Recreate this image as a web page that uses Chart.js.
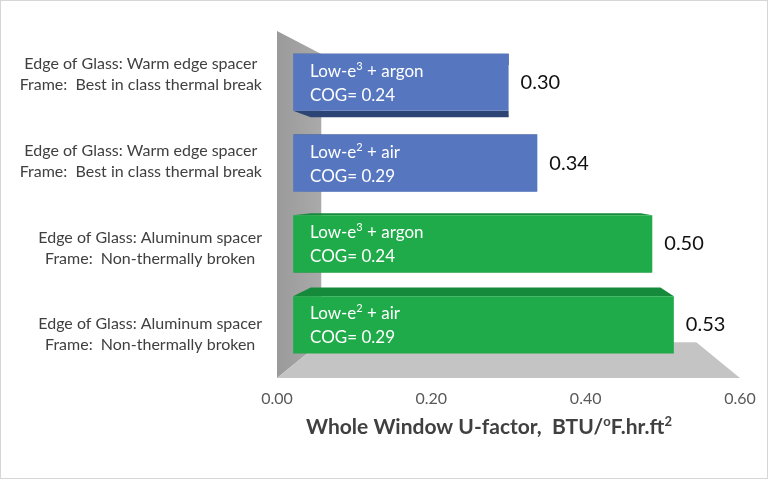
<!DOCTYPE html>
<html><head><meta charset="utf-8">
<script src="https://cdn.jsdelivr.net/npm/chart.js@4"></script>
<style>html,body{margin:0;padding:0;background:#fff;} canvas{display:block;}</style>
</head><body>
<canvas id="c" width="768" height="479"></canvas>
<script>
// ---- data ----
const categories = [
  ["Edge of Glass: Warm edge spacer", "Frame:  Best in class thermal break"],
  ["Edge of Glass: Warm edge spacer", "Frame:  Best in class thermal break"],
  ["Edge of Glass: Aluminum spacer", "Frame:  Non-thermally broken"],
  ["Edge of Glass: Aluminum spacer", "Frame:  Non-thermally broken"]
];
const uFactor = [0.30, 0.34, 0.50, 0.53];
const glazing = ["Low-e³ + argon", "Low-e² + air", "Low-e³ + argon", "Low-e² + air"];
const cogValues = [0.24, 0.29, 0.24, 0.29];
const xTicks = [0.00, 0.20, 0.40, 0.60];
const titleText = "Whole Window U-factor,  BTU/ºF.hr.ft²";

// ---- styles ----
const frontTop = ["#6a8fd6", "#6a8fd6", "#25b552", "#25b552"];
const frontBot = ["#5677c0", "#5677c0", "#1fab49", "#1fab49"];
const depthColors = ["#2d4574", "#2d4574", "#168a3b", "#168a3b"];
const VX = 510, VY = 190, K_FRONT = 0.931, K_BACK = 0.855, K_WALL = 0.81, K_WALL_TOP = 0.855;
const SUP = { '³': '3', '²': '2', 'º': 'o' };
const Y_FONT = '16px Lato', Y_LINE = 21, Y_PAD = 15;
function proj(x, y, k) { return [VX + (x - VX) * k, VY + (y - VY) * k]; }
function poly(ctx, pts, fill) {
  ctx.beginPath(); ctx.moveTo(pts[0][0], pts[0][1]);
  for (let i = 1; i < pts.length; i++) ctx.lineTo(pts[i][0], pts[i][1]);
  ctx.closePath(); ctx.fillStyle = fill; ctx.fill();
}
function runs(text) {
  const out = []; let cur = '';
  for (const ch of text) {
    if (SUP[ch]) { if (cur) out.push([cur, false]); out.push([SUP[ch], true]); cur = ''; }
    else cur += ch;
  }
  if (cur) out.push([cur, false]);
  return out;
}
function drawRich(ctx, text, x, y, big, small, rise, align) {
  const parts = runs(text);
  let total = 0;
  parts.forEach(([t, s]) => { ctx.font = s ? small : big; total += ctx.measureText(t).width; });
  if (align === 'center') x -= total / 2;
  ctx.textAlign = 'left';
  parts.forEach(([t, s]) => {
    ctx.font = s ? small : big;
    ctx.fillText(t, x, s ? y - rise : y);
    x += ctx.measureText(t).width;
  });
}

const threeD = {
  id: 'threeD',
  beforeDatasetsDraw(chart) {
    const ctx = chart.ctx, a = chart.chartArea;
    const wTopF = [a.left, a.top], wBotF = [a.left, a.bottom];
    const wTopB = [proj(a.left, a.top, K_WALL)[0], proj(a.left, a.top, K_WALL_TOP)[1]];
    const wBotB = proj(a.left, a.bottom, K_WALL);
    const g = ctx.createLinearGradient(a.left, 0, wTopB[0], 0);
    g.addColorStop(0, '#9a9a9a'); g.addColorStop(1, '#aaaaaa');
    poly(ctx, [wTopF, wTopB, wBotB, wBotF], g);
    const fRF = [a.right, a.bottom], fRB = proj(a.right, a.bottom, K_WALL);
    poly(ctx, [wBotF, fRF, fRB, wBotB], '#c4c4c4');
    const meta = chart.getDatasetMeta(0);
    meta.data.forEach((el, i) => {
      const p = el.getProps(['x', 'y', 'base', 'height'], true);
      const y0 = p.y - p.height / 2, y1 = p.y + p.height / 2;
      const x0 = p.base, x1 = p.x;
      const c = depthColors[i];
      poly(ctx, [proj(x0, y0, K_FRONT), proj(x1, y0, K_FRONT), proj(x1, y0, K_BACK), proj(x0, y0, K_BACK)], c);
      poly(ctx, [proj(x0, y1, K_FRONT), proj(x1, y1, K_FRONT), proj(x1, y1, K_BACK), proj(x0, y1, K_BACK)], c);
    });
    ctx.save();
    ctx.translate(VX, VY); ctx.scale(K_FRONT, K_FRONT); ctx.translate(-VX, -VY);
  },
  afterDatasetsDraw(chart) {
    const ctx = chart.ctx;
    ctx.restore();
    const meta = chart.getDatasetMeta(0);
    meta.data.forEach((el, i) => {
      const p = el.getProps(['x', 'y', 'base', 'height'], true);
      const [bx, cy] = proj(p.base, p.y, K_FRONT);
      const [ex] = proj(p.x, p.y, K_FRONT);
      ctx.save();
      ctx.textBaseline = 'middle';
      ctx.fillStyle = '#ffffff';
      drawRich(ctx, glazing[i], bx + 17, cy - 11, '17px Lato', '11px Lato', 5, 'left');
      ctx.font = '17px Lato'; ctx.textAlign = 'left';
      ctx.fillText('COG= ' + cogValues[i].toFixed(2), bx + 17, cy + 13);
      ctx.fillStyle = '#111111';
      ctx.font = '20px Lato';
      ctx.fillText(uFactor[i].toFixed(2), ex + 12, cy);
      ctx.restore();
    });
  },
  afterDraw(chart) {
    const ctx = chart.ctx;
    ctx.save();
    // category labels: each two-line block centred on itself, block right-aligned to the axis
    const ys = chart.scales.y;
    ctx.fillStyle = '#404040';
    ctx.textBaseline = 'middle';
    ctx.textAlign = 'center';
    ctx.font = Y_FONT;
    chart.data.labels.forEach((lines, i) => {
      const cy = ys.getPixelForTick(i);
      const w = Math.max(...lines.map(l => ctx.measureText(l).width));
      const cx = ys.right - Y_PAD - w / 2;
      lines.forEach((l, j) => ctx.fillText(l, cx, cy + (j - (lines.length - 1) / 2) * Y_LINE));
    });
    // axis title
    ctx.textBaseline = 'alphabetic';
    drawRich(ctx, titleText, 489, 434, 'bold 21px Lato', 'bold 13px Lato', 8, 'center');
    ctx.strokeStyle = '#d6d6d6'; ctx.lineWidth = 1;
    ctx.strokeRect(0.5, 0.5, chart.width - 1, chart.height - 1);
    ctx.restore();
  }
};

new Chart(document.getElementById('c'), {
  type: 'bar',
  data: {
    labels: categories,
    datasets: [{
      data: uFactor,
      backgroundColor: (c) => {
        const i = c.dataIndex, el = c.element;
        if (!el || el.height == null) return frontBot[i];
        const p = el.getProps(['y', 'height'], true);
        const g = c.chart.ctx.createLinearGradient(0, p.y - p.height / 2, 0, p.y + p.height / 2);
        g.addColorStop(0, frontTop[i]); g.addColorStop(1, frontBot[i]);
        return g;
      },
      borderWidth: 0,
      barPercentage: 0.706,
      categoryPercentage: 1
    }]
  },
  options: {
    indexAxis: 'y',
    responsive: false,
    animation: false,
    devicePixelRatio: 1,
    layout: { padding: { left: 12, top: 31, right: 28, bottom: 0 } },
    plugins: { legend: { display: false }, tooltip: { enabled: false }, title: { display: false } },
    scales: {
      x: {
        min: 0, max: 0.6,
        afterBuildTicks: s => { s.ticks = xTicks.map(v => ({ value: v })); },
        afterFit: s => { s.height = 101; s.paddingLeft = 0; s.paddingRight = 0; },
        grid: { display: false, drawTicks: false },
        border: { display: false },
        ticks: {
          padding: 11,
          color: '#595959',
          font: { family: 'Lato', size: 16 },
          callback: v => Number(v).toFixed(2)
        }
      },
      y: {
        afterFit: s => { s.width = 265; s.paddingTop = 0; s.paddingBottom = 0; },
        grid: { display: false, drawTicks: false },
        border: { display: false },
        ticks: { display: false }
      }
    }
  },
  plugins: [threeD]
});
</script>
</body></html>
